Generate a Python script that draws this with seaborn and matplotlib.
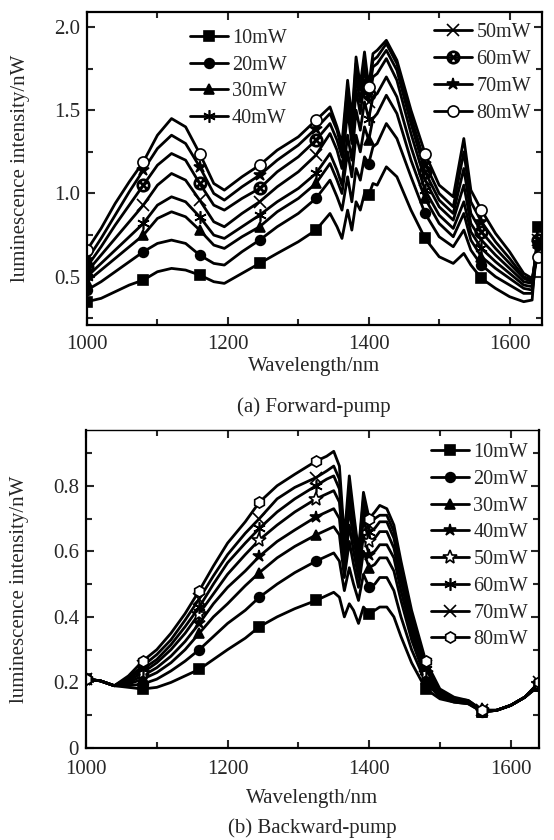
import numpy as np
import seaborn as sns
import matplotlib
matplotlib.use("Agg")
import matplotlib.pyplot as plt
from matplotlib.ticker import MultipleLocator, FixedLocator, FixedFormatter

# ---- data ----
powers = ["10mW", "20mW", "30mW", "40mW", "50mW", "60mW", "70mW", "80mW"]

# (a) forward pump
wl_fwd = [1000, 1020, 1040, 1060, 1080, 1100, 1120, 1140, 1160, 1180, 1195, 1220, 1245, 1270,
          1300, 1325, 1345, 1355, 1362, 1370, 1376, 1382, 1388, 1394, 1400, 1406, 1412, 1425,
          1440, 1460, 1480, 1500, 1520, 1535, 1545, 1560, 1580, 1600, 1620, 1632, 1640, 1645]
fwd_10 = [.35, .37, .41, .45, .48, .53, .55, .54, .51, .47, .46, .52, .58, .64, .71, .78, .88, .80, .73, .90, .78,
          .95, .90, 1.00, .99, 1.06, 1.05, 1.16, 1.10, .90, .73, .62, .58, .64, .57, .49, .43, .38, .35, .36, .80, .78]
fwd_20 = [.42, .47, .53, .59, .65, .70, .72, .70, .63, .58, .57, .65, .72, .80, .88, .97, 1.08, .98, .90, 1.10, .95,
          1.15, 1.08, 1.22, 1.18, 1.28, 1.30, 1.42, 1.33, 1.10, .88, .74, .68, .78, .66, .57, .50, .45, .40, .40, .69, .68]
fwd_30 = [.47, .54, .61, .68, .75, .85, .89, .86, .78, .69, .67, .74, .80, .89, .97, 1.06, 1.18, 1.08, 1.00, 1.25, 1.10,
          1.35, 1.25, 1.40, 1.32, 1.45, 1.48, 1.59, 1.48, 1.20, .97, .82, .74, .88, .72, .62, .55, .49, .43, .42, .70, .69]
fwd_40 = [.50, .58, .66, .74, .82, .93, .98, .95, .86, .75, .73, .80, .87, .95, 1.03, 1.12, 1.24, 1.14, 1.05, 1.35, 1.20,
          1.50, 1.38, 1.55, 1.45, 1.58, 1.60, 1.70, 1.58, 1.28, 1.02, .87, .79, .95, .77, .67, .59, .52, .45, .44, .70, .70]
fwd_50 = [.53, .63, .73, .83, .93, 1.05, 1.12, 1.08, .96, .83, .80, .88, .95, 1.04, 1.13, 1.23, 1.36, 1.26, 1.15, 1.50, 1.30,
          1.62, 1.48, 1.68, 1.55, 1.70, 1.72, 1.81, 1.68, 1.36, 1.08, .92, .84, 1.05, .82, .72, .63, .55, .47, .46, .72, .71]
fwd_60 = [.56, .68, .81, .93, 1.05, 1.17, 1.24, 1.20, 1.06, .93, .90, .97, 1.03, 1.13, 1.22, 1.32, 1.42, 1.32, 1.22, 1.58, 1.36,
          1.70, 1.55, 1.75, 1.60, 1.76, 1.78, 1.86, 1.74, 1.42, 1.13, .96, .88, 1.15, .88, .77, .67, .58, .49, .47, .72, .71]
fwd_70 = [.60, .73, .87, 1.01, 1.14, 1.27, 1.35, 1.30, 1.16, 1.00, .96, 1.04, 1.11, 1.20, 1.29, 1.39, 1.48, 1.38, 1.26, 1.64, 1.42,
          1.78, 1.62, 1.80, 1.62, 1.80, 1.82, 1.90, 1.78, 1.46, 1.18, 1.00, .92, 1.25, .95, .83, .71, .61, .50, .48, .70, .69]
fwd_80 = [.66, .79, .94, 1.07, 1.19, 1.35, 1.45, 1.40, 1.24, 1.06, 1.02, 1.10, 1.17, 1.26, 1.34, 1.44, 1.52, 1.40, 1.30, 1.68, 1.45,
          1.82, 1.65, 1.85, 1.64, 1.84, 1.86, 1.92, 1.80, 1.50, 1.24, 1.05, .98, 1.33, 1.02, .90, .76, .65, .52, .49, .62, .61]
fwd_marks = [0, 4, 8, 12, 15, 24, 30, 35, 40]

# (b) backward pump
wl_bwd = [1000, 1020, 1040, 1060, 1080, 1100, 1120, 1140, 1160, 1180, 1200, 1225, 1245, 1270, 1295,
          1325, 1340, 1350, 1358, 1365, 1372, 1378, 1385, 1392, 1400, 1408, 1415, 1425, 1435, 1445,
          1460, 1480, 1500, 1520, 1540, 1560, 1580, 1600, 1620, 1640]
bwd_10 = [.21, .205, .19, .185, .18, .185, .20, .22, .24, .27, .30, .335, .37, .40, .425, .45, .465, .475, .46, .40,
          .44, .42, .38, .43, .41, .42, .43, .43, .40, .34, .26, .18, .15, .14, .135, .11, .115, .13, .155, .19]
bwd_20 = [.21, .205, .19, .19, .195, .21, .235, .265, .30, .34, .38, .42, .46, .50, .535, .57, .585, .595, .57, .48,
          .55, .50, .45, .53, .49, .50, .52, .52, .48, .40, .30, .20, .155, .14, .135, .11, .115, .13, .155, .19]
bwd_30 = [.21, .205, .19, .195, .21, .23, .26, .30, .35, .40, .44, .495, .535, .58, .615, .65, .665, .675, .65, .52,
          .63, .56, .49, .60, .55, .56, .58, .58, .54, .45, .33, .21, .16, .145, .14, .11, .115, .13, .155, .19]
bwd_40 = [.21, .205, .19, .20, .22, .245, .28, .325, .38, .44, .49, .54, .585, .63, .665, .705, .72, .73, .70, .55,
          .68, .60, .52, .65, .59, .60, .62, .62, .58, .48, .35, .22, .165, .145, .14, .11, .115, .13, .155, .195]
bwd_50 = [.21, .205, .19, .205, .23, .26, .30, .35, .41, .47, .53, .59, .635, .68, .72, .76, .775, .785, .75, .58,
          .73, .64, .55, .70, .63, .64, .66, .66, .61, .51, .37, .23, .17, .15, .14, .115, .115, .13, .155, .195]
bwd_60 = [.21, .205, .19, .21, .24, .27, .315, .37, .43, .50, .565, .625, .67, .72, .76, .80, .82, .83, .79, .60,
          .77, .67, .57, .73, .66, .67, .69, .69, .64, .53, .39, .24, .17, .15, .14, .115, .115, .13, .155, .20]
bwd_70 = [.21, .205, .19, .215, .25, .285, .33, .39, .455, .525, .59, .655, .70, .76, .795, .825, .845, .86, .82, .62,
          .80, .70, .59, .76, .68, .70, .71, .71, .66, .55, .40, .25, .175, .15, .145, .115, .115, .13, .155, .20]
bwd_80 = [.21, .205, .19, .22, .265, .30, .35, .41, .48, .555, .625, .69, .75, .80, .835, .875, .89, .905, .86, .64,
          .83, .72, .60, .78, .70, .72, .74, .73, .68, .57, .42, .265, .18, .155, .145, .115, .115, .13, .155, .20]
bwd_marks = [0, 4, 8, 12, 15, 24, 31, 35, 39]

x_ticks = [1000, 1200, 1400, 1600]
y_ticks_fwd = [0.5, 1.0, 1.5, 2.0]
y_labels_fwd = ["0.5", "1.0", "1.5", "2.0"]
y_ticks_bwd = [0, 0.2, 0.4, 0.6, 0.8]
y_labels_bwd = ["0", "0.2", "0.4", "0.6", "0.8"]

sns.set_theme(style="ticks")
plt.rcParams["font.family"] = ["Liberation Serif", "DejaVu Serif"]
plt.rcParams["mathtext.fontset"] = "stix"

fig = plt.figure(figsize=(5.54, 8.4), dpi=100)
ax1 = fig.add_axes([87 / 554, 1 - 325 / 840, 455 / 554, 313 / 840])
ax2 = fig.add_axes([86 / 554, 1 - 748 / 840, 453 / 554, 318 / 840])

# marker styles (marker, face colour, size)
fwd_style = [("s", "black", 7), ("o", "black", 7), ("^", "black", 7), ((6, 2, 0), "black", 9),
             ("x", "black", 8), ("$\\otimes$", "black", 9), ("*", "black", 9), ("o", "white", 8)]
bwd_style = [("s", "black", 7), ("o", "black", 7), ("^", "black", 7), ("*", "black", 9),
             ("*", "white", 10), ((6, 2, 0), "black", 9), ("x", "black", 8), ("h", "white", 8)]

fwd_series = [fwd_10, fwd_20, fwd_30, fwd_40, fwd_50, fwd_60, fwd_70, fwd_80]
bwd_series = [bwd_10, bwd_20, bwd_30, bwd_40, bwd_50, bwd_60, bwd_70, bwd_80]

for ax, wl, series, styles, marks in [(ax1, wl_fwd, fwd_series, fwd_style, fwd_marks),
                                      (ax2, wl_bwd, bwd_series, bwd_style, bwd_marks)]:
    for name, vals, (mk, fc, ms) in zip(powers, series, styles):
        sns.lineplot(x=wl, y=vals, ax=ax, color="black", lw=2.0, marker=mk, markevery=marks,
                     ms=ms, mfc=fc, mec="black", mew=1.2, label=name, legend=False)

for ax in (ax1, ax2):
    ax.xaxis.set_major_locator(FixedLocator(x_ticks))
    ax.xaxis.set_minor_locator(MultipleLocator(100))
    ax.tick_params(which="both", direction="in", top=True, right=True, width=1.5, labelsize=15)
    ax.tick_params(which="major", length=6)
    ax.tick_params(which="minor", length=4)
    ax.tick_params(axis="y", pad=5)
    for sp in ax.spines.values():
        sp.set_linewidth(1.6)
        sp.set_color("black")
    ax.set_ylabel("luminescence intensity/nW", fontsize=15)
    ax.yaxis.set_label_coords(-0.125, 0.5)
    ax.set_xlabel("")

ax1.tick_params(axis="x", pad=7)
ax2.tick_params(axis="x", pad=9)

ax1.set_xlim(1000, 1646)
ax1.set_ylim(0.21, 2.09)
ax1.yaxis.set_major_locator(FixedLocator(y_ticks_fwd))
ax1.yaxis.set_major_formatter(FixedFormatter(y_labels_fwd))
ax1.yaxis.set_minor_locator(MultipleLocator(0.25))

ax2.set_xlim(1000, 1640)
ax2.set_ylim(0, 0.97)
ax2.yaxis.set_major_locator(FixedLocator(y_ticks_bwd))
ax2.yaxis.set_major_formatter(FixedFormatter(y_labels_bwd))
ax2.yaxis.set_minor_locator(MultipleLocator(0.1))
ax2.spines["top"].set_linewidth(1.0)
ax2.spines["top"].set_linestyle((0, (1, 1)))

leg_kw = dict(frameon=False, fontsize=14.5, handlelength=1.9, handletextpad=0.2,
              labelspacing=0.38, borderpad=0, borderaxespad=0, numpoints=1, loc="upper left")
lines1 = ax1.get_lines()
leg_a = ax1.legend(handles=lines1[:4], bbox_to_anchor=(0.226, 0.946), **leg_kw)
ax1.add_artist(leg_a)
ax1.legend(handles=lines1[4:], bbox_to_anchor=(0.763, 0.964), **leg_kw)
ax2.legend(handles=ax2.get_lines(), bbox_to_anchor=(0.762, 0.959), **leg_kw)

fig.text(314 / 554, 1 - 366 / 840, "Wavelength/nm", ha="center", va="center", fontsize=15)
fig.text(314 / 554, 1 - 407 / 840, "(a) Forward-pump", ha="center", va="center", fontsize=15)
fig.text(312 / 554, 1 - 798 / 840, "Wavelength/nm", ha="center", va="center", fontsize=15)
fig.text(312 / 554, 1 - 828 / 840, "(b) Backward-pump", ha="center", va="center", fontsize=15)

fig.savefig("out.png", dpi=100)
